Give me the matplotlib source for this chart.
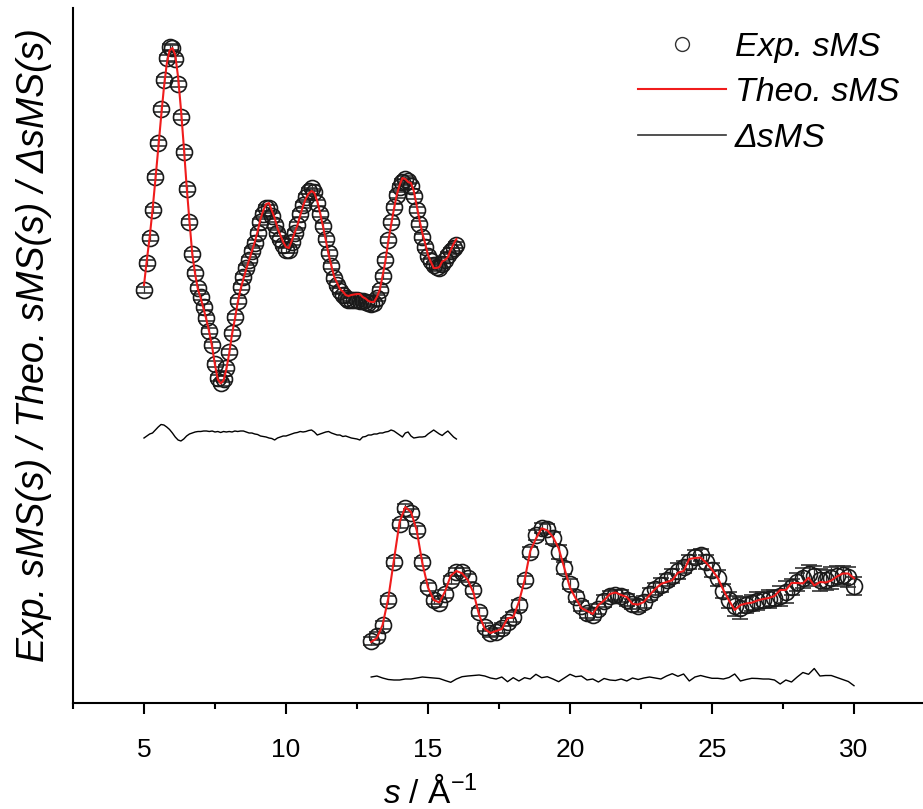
import numpy as np
import matplotlib
matplotlib.use("Agg")
import matplotlib.pyplot as plt
from matplotlib.lines import Line2D
from matplotlib.ticker import MultipleLocator

plt.rcParams['font.family'] = ['Liberation Sans', 'DejaVu Sans']
plt.rcParams['mathtext.fontset'] = 'custom'
plt.rcParams['mathtext.rm'] = 'Liberation Sans'
plt.rcParams['mathtext.it'] = 'Liberation Sans:italic'

# s-Gitter (Å^-1): oben 5.0-16.0 in 0.1-Schritten, unten 13.0-30.0 in 0.2-Schritten
s_top = np.linspace(5.0, 16.0, 111)
s_bot = np.linspace(13.0, 30.0, 86)

# Exp. sMS, oberer Datensatz (willkürliche Einheiten, inkl. Versatz)
exp_top = [413, 440, 465, 493, 526, 560, 594, 623, 645, 656,
           655, 644, 619, 586, 551, 514, 481, 449, 430, 415,
           406, 396, 385, 372, 358, 339, 325, 320, 324, 335,
           351, 370, 386, 402, 416, 426, 435, 443, 452, 460,
           470, 481, 489, 495, 495, 487, 478, 470, 464, 458,
           453, 453, 461, 470, 478, 489, 498, 506, 512, 515,
           511, 500, 489, 477, 464, 450, 437, 425, 418, 412,
           408, 405, 403, 403, 403, 403, 402, 402, 401, 400,
           399, 400, 405, 413, 427, 443, 463, 481, 496, 508,
           516, 521, 524, 522, 517, 507, 493, 479, 466, 456,
           447, 442, 438, 436, 435, 439, 443, 448, 452, 455,
           458]
err_top = [3, 3, 3, 3, 3, 3, 3, 3, 3, 3,
           3, 3, 3, 3, 3, 3, 3, 3, 3, 3,
           3, 3, 3, 3, 3, 3, 3, 3, 3, 3,
           3, 3, 3, 3, 3, 3, 3, 3, 3, 3,
           3, 3, 3, 3, 3, 3, 3, 3, 3, 3,
           3, 3, 3, 3, 3, 3, 3, 3, 3, 3,
           3, 3, 3, 3, 3, 3, 3, 3, 3, 3,
           3, 3, 3, 3, 3, 3, 3, 3, 3, 3,
           3, 3, 3, 3, 3, 3, 3, 3, 3, 3,
           3, 3, 3, 3, 3, 3, 3, 3, 3, 3,
           3, 3, 3, 3, 3, 3, 3, 3, 3, 3,
           3]
# Differenz exp - theo, oben
delta_top = [-5, -3, -1, 0, 3, 6, 8.5, 8, 6, 3.5,
             0, -4, -7, -8, -6, -3, -1, 0, 1, 1.5,
             1.5, 2, 2, 1.5, 2, 1, 1.5, 0.5, 1.5, 1,
             1.5, 1, 2, 1.5, 2, 2, 1, 0, 0, -1,
             -1.5, -3, -3.5, -4, -5, -5.5, -7, -5, -4, -3,
             -3, -2, -1, 0, 0.5, 1.5, 1, 1.5, 2.5, 3,
             1, -2, -1, 0, 1, 1.5, 0, -1, -2, -2,
             -3.5, -3, -4, -5, -5.5, -6, -7, -4, -3.5, -2,
             -2, -1, -1, 0, 0, 1, 1.5, 3, 2, 0,
             -2, -4, 0, 1, -3, -5, -4.5, -4, -4, -3.5,
             -1, 1, 3, 1, -1, -2.5, 0, 2, -1, -4,
             -6]

# Exp. sMS, unterer Datensatz
exp_bot = [62, 67, 78, 103, 141, 179, 195, 190, 173, 141,
           116, 103, 100, 109, 123, 131, 131, 125, 113, 91,
           76, 70, 71, 75, 81, 86, 98, 123, 151, 168,
           175, 174, 165, 151, 135, 119, 106, 97, 90, 88,
           94, 102, 107, 108, 107, 103, 99, 97, 101, 109,
           114, 118, 123, 127, 132, 136, 141, 146, 148, 141,
           133, 125, 112, 103, 97, 95, 98, 100, 102, 103,
           104, 105, 107, 111, 116, 121, 125, 129, 127, 123,
           123, 125, 127, 128, 126, 117]
err_bot = [4, 4, 4, 4, 4, 4, 4, 4, 4, 4,
           4, 4, 4, 4, 4, 4, 4, 4, 4, 4,
           4, 4, 4, 5, 4, 5, 5, 4, 5, 5,
           5, 5, 6, 7, 6, 5, 5, 5, 5, 5,
           5, 6, 5, 5, 6, 6, 5, 6, 6, 6,
           6, 7, 6, 7, 8, 6, 7, 7, 6, 7,
           7, 8, 7, 8, 10, 11, 8, 8, 9, 8,
           9, 8, 10, 11, 8, 9, 10, 9, 10, 11,
           10, 11, 10, 9, 10, 9]
delta_bot = [1, 2, 0, -1.5, -2, -2, -1, -1, 0, 1,
             0.5, 0, -0.5, -2.5, -4.3, -1, 1.3, 2, 2.5, 3,
             2, 0, -1, 1, -3.7, 0.3, -3, 0.3, -1, 3.7,
             0.3, 1.3, -1, -3.7, 0, 3.7, 1.3, 2, -2, -1,
             -4, -0.5, -2, -2.5, -1, -3, 0, -1.5, 0, 1,
             0, -1, 2, 4.3, 1.7, 4, -3, 1, 2.5, 1,
             -0.3, -0.3, -1, 0.5, 4, -3, -1.5, -0.3, -0.5, -1,
             -1, -2, -6, -2, -4, 1, 5.5, 3.7, 9.5, 2,
             2.5, 2.5, 0.5, -1.5, -3.5, -7.7]

# Versatz der Differenzkurven
off_top = 270
off_bot = 25

exp_top = np.array(exp_top, dtype=float)
exp_bot = np.array(exp_bot, dtype=float)
theo_top = exp_top - np.array(delta_top)
theo_bot = exp_bot - np.array(delta_bot)

fig = plt.figure(figsize=(9.23, 8.09), dpi=100)
ax = fig.add_axes([73/923, 1 - 703/809, 850/923, 695/809])

for s, e, err, th, d, off in [(s_top, exp_top, err_top, theo_top, delta_top, off_top),
                              (s_bot, exp_bot, err_bot, theo_bot, delta_bot, off_bot)]:
    ax.errorbar(s, e, yerr=err, fmt='o', mfc='none', mec='#1a1a1a', ms=11.5, mew=1.2,
                ecolor='#333333', elinewidth=0.9, capsize=5.5, capthick=0.9, zorder=2)
    ax.plot(s, th, color='#f01c1c', lw=1.5, zorder=3)
    ax.plot(s, np.array(d) + off, color='black', lw=1.0, zorder=3)

ax.set_xlim(2.5, 2.5 + 850/28.4)
ax.set_ylim(0, 695)
ax.spines['top'].set_visible(False)
ax.spines['right'].set_visible(False)
ax.spines['left'].set_linewidth(1.5)
ax.spines['bottom'].set_linewidth(1.5)
ax.set_yticks([])
ax.xaxis.set_major_locator(MultipleLocator(5))
ax.xaxis.set_minor_locator(MultipleLocator(2.5))
ax.tick_params(axis='x', which='major', direction='out', length=8, width=1.5, labelsize=19, pad=17)
ax.tick_params(axis='x', which='minor', direction='out', length=4, width=1.5)

ax.set_xlabel(r"$s$ / Å$^{-1}$", fontsize=24)
ax.xaxis.set_label_coords((430 - 73)/850, (703 - 776)/695)
ax.set_ylabel("Exp. sMS(s) / Theo. sMS(s) / ΔsMS(s)", fontsize=27, style='italic')
ax.yaxis.set_label_coords((52 - 73)/850, (703 - 345)/695)

handles = [Line2D([], [], ls='none', marker='o', mfc='none', mec='#333333', ms=10, mew=1.0),
           Line2D([], [], color='#f01c1c', lw=1.5),
           Line2D([], [], color='#333333', lw=1.2)]
ax.legend(handles, ["Exp. sMS", "Theo. sMS", "ΔsMS"], loc='upper right',
          bbox_to_anchor=(899/923, 1 - 32/809), bbox_transform=fig.transFigure,
          frameon=False, prop={'size': 24.5, 'style': 'italic'}, handlelength=2.6,
          handletextpad=0.25, labelspacing=0.42, borderpad=0, borderaxespad=0)

fig.savefig("out.png", dpi=100)
